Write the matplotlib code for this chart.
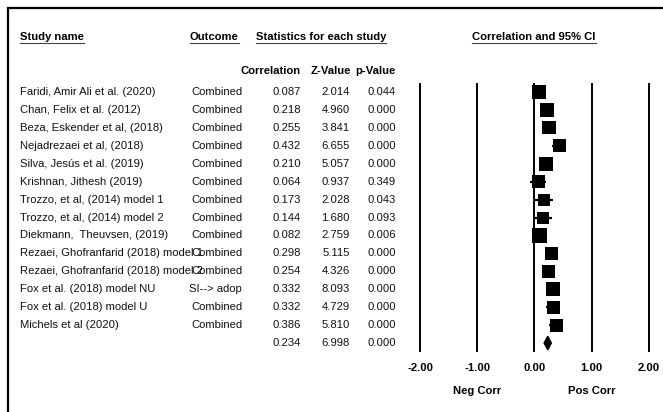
import numpy as np
import matplotlib
matplotlib.use("Agg")
import matplotlib.pyplot as plt
from matplotlib import transforms
from matplotlib.patches import Polygon, Rectangle
from matplotlib.lines import Line2D

plt.rcParams['font.family'] = ['Liberation Sans', 'DejaVu Sans']

studies = ["Faridi, Amir Ali et al. (2020)", "Chan, Felix et al. (2012)",
           "Beza, Eskender et al, (2018)", "Nejadrezaei et al, (2018)",
           "Silva, Jesús et al. (2019)", "Krishnan, Jithesh (2019)",
           "Trozzo, et al, (2014) model 1", "Trozzo, et al, (2014) model 2",
           "Diekmann,  Theuvsen, (2019)", "Rezaei, Ghofranfarid (2018) model 1",
           "Rezaei, Ghofranfarid (2018) model 2", "Fox et al. (2018) model NU",
           "Fox et al. (2018) model U", "Michels et al (2020)"]
outcome = ["Combined"] * 11 + ["SI--> adop", "Combined", "Combined"]
corr = [0.087, 0.218, 0.255, 0.432, 0.210, 0.064, 0.173, 0.144, 0.082,
        0.298, 0.254, 0.332, 0.332, 0.386]
zval = [2.014, 4.960, 3.841, 6.655, 5.057, 0.937, 2.028, 1.680, 2.759,
        5.115, 4.326, 8.093, 4.729, 5.810]
pval = [0.044, 0.000, 0.000, 0.000, 0.000, 0.349, 0.043, 0.093, 0.006,
        0.000, 0.000, 0.000, 0.000, 0.000]
lower = [0.002, 0.133, 0.127, 0.315, 0.130, -0.070, 0.006, -0.024, 0.024,
         0.187, 0.141, 0.256, 0.199, 0.263]
upper = [0.170, 0.300, 0.375, 0.536, 0.288, 0.195, 0.331, 0.304, 0.140,
         0.401, 0.360, 0.404, 0.453, 0.496]
weight = [7.5, 7.5, 6.5, 6.5, 7.5, 6.5, 5.5, 5.5, 8.5, 6.5, 6.5, 7.5, 6.5, 6.5]
summary = dict(corr=0.234, z=6.998, p=0.000, lower=0.170, upper=0.296)
ticks = [-2, -1, 0, 1, 2]

W, H = 663, 412
fig = plt.figure(figsize=(W / 100, H / 100), dpi=100)

unit = 57.2          # pixels per correlation unit
x_m2 = 420           # pixel of -2.00
row0, step = 92, 17.93
nrow = len(studies) + 1
top_px = row0 - 0.5 * step
bot_px = row0 + (nrow - 0.5) * step
left_px = x_m2 - 0.2 * unit
ax = fig.add_axes([left_px / W, 1 - bot_px / H, 4.4 * unit / W, (bot_px - top_px) / H])
ax.set_xlim(-2.2, 2.2)
ax.set_ylim(nrow - 0.5, -0.5)
for s in ax.spines.values():
    s.set_visible(False)
ax.set_yticks([])
ax.set_xticks(ticks)
fs = 8.1
ax.set_xticklabels([f"{t:.2f}" for t in ticks], fontweight='bold', fontsize=fs)
ax.tick_params(axis='x', length=0, pad=8)

for t in ticks:
    ax.axvline(t, color='black', lw=1.4)

y = np.arange(len(studies))
ax.hlines(y, lower, upper, color='black', lw=1.6)
side_px = 14 * np.sqrt(np.array(weight) / 7.5)
ax.scatter(corr, y, marker='s', s=(side_px * 0.72) ** 2, color='black',
           linewidths=0, zorder=3)
ys = len(studies)
dia = Polygon([[summary['lower'], ys], [summary['corr'], ys - 0.38],
               [summary['upper'], ys], [summary['corr'], ys + 0.38]],
              closed=True, color='black', zorder=3)
ax.add_patch(dia)

# table text
tr = transforms.blended_transform_factory(fig.transFigure, ax.transData)
col = '#111111'
for i in range(len(studies)):
    ax.text(20 / W, i, studies[i], transform=tr, fontsize=fs, va='center', color=col)
    ax.text(242 / W, i, outcome[i], transform=tr, fontsize=fs, va='center', ha='right', color=col)
    ax.text(301 / W, i, f"{corr[i]:.3f}", transform=tr, fontsize=fs, va='center', ha='right', color=col)
    ax.text(350 / W, i, f"{zval[i]:.3f}", transform=tr, fontsize=fs, va='center', ha='right', color=col)
    ax.text(396 / W, i, f"{pval[i]:.3f}", transform=tr, fontsize=fs, va='center', ha='right', color=col)
ax.text(301 / W, ys, f"{summary['corr']:.3f}", transform=tr, fontsize=fs, va='center', ha='right', color=col)
ax.text(350 / W, ys, f"{summary['z']:.3f}", transform=tr, fontsize=fs, va='center', ha='right', color=col)
ax.text(396 / W, ys, f"{summary['p']:.3f}", transform=tr, fontsize=fs, va='center', ha='right', color=col)

# headers
def fy(px):
    return 1 - px / H

heads = []
heads.append(fig.text(20 / W, fy(37), "Study name", fontsize=fs, fontweight='bold', va='center'))
heads.append(fig.text(190 / W, fy(37), "Outcome", fontsize=fs, fontweight='bold', va='center'))
heads.append(fig.text(321 / W, fy(37), "Statistics for each study", fontsize=fs, fontweight='bold',
                      va='center', ha='center'))
heads.append(fig.text(534 / W, fy(37), "Correlation and 95% CI", fontsize=fs, fontweight='bold',
                      va='center', ha='center'))
fig.text(301 / W, fy(71), "Correlation", fontsize=fs, fontweight='bold', va='center', ha='right')
fig.text(351 / W, fy(71), "Z-Value", fontsize=fs, fontweight='bold', va='center', ha='right')
fig.text(396 / W, fy(71), "p-Value", fontsize=fs, fontweight='bold', va='center', ha='right')

trx = transforms.blended_transform_factory(ax.transData, fig.transFigure)
ax.text(-1, fy(391), "Neg Corr", transform=trx, fontsize=fs, fontweight='bold', ha='center', va='center')
ax.text(1, fy(391), "Pos Corr", transform=trx, fontsize=fs, fontweight='bold', ha='center', va='center')

# underline headers
fig.canvas.draw()
rend = fig.canvas.get_renderer()
for h in heads:
    bb = h.get_window_extent(rend)
    yl = (bb.y0 - 0.5) / H
    fig.add_artist(Line2D([bb.x0 / W, bb.x1 / W], [yl, yl], color='#444444', lw=0.8))

# frame
fig.add_artist(Rectangle((8 / W, -0.1), 1.2, 1.1 - 8 / H, transform=fig.transFigure,
                         fill=False, edgecolor='black', lw=1.6))

fig.savefig("out.png", dpi=100)
